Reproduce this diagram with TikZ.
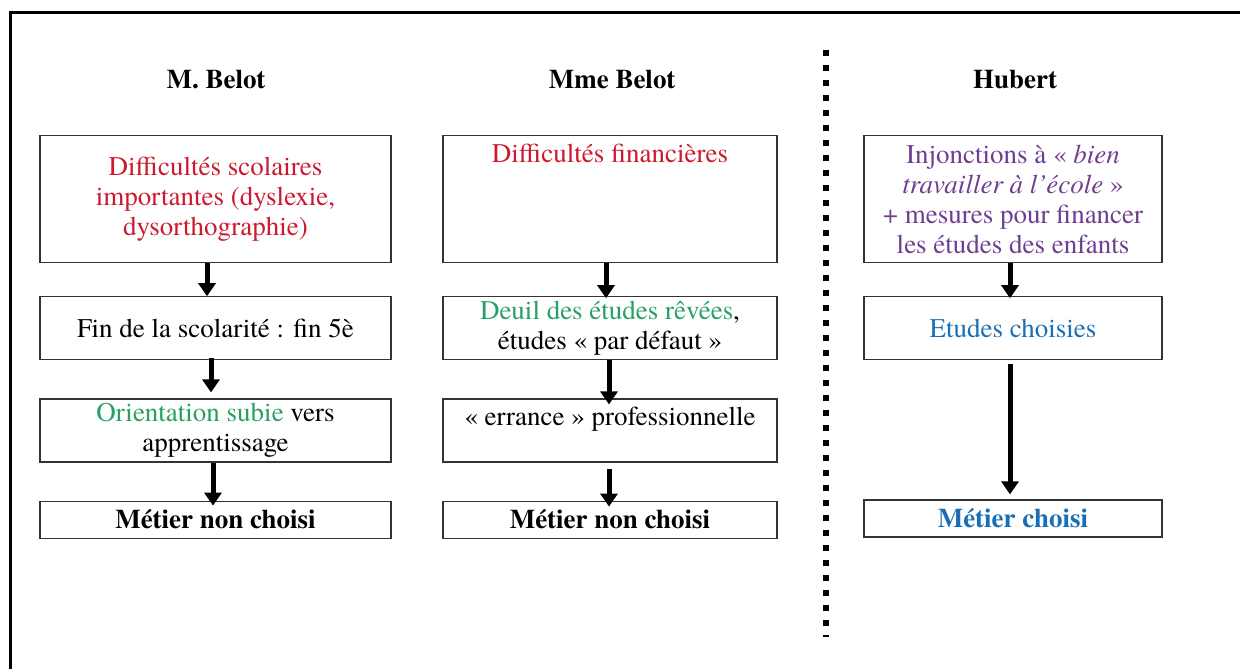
\documentclass[tikz,border=0pt]{standalone}
\usepackage{fontspec}
\setmainfont{texgyretermes}[Extension=.otf, UprightFont=*-regular, BoldFont=*-bold, ItalicFont=*-italic, BoldItalicFont=*-bolditalic, Ligatures=TeX]
\usetikzlibrary{arrows.meta, positioning}

\definecolor{diffred}{RGB}{205,25,45}
\definecolor{subigreen}{RGB}{40,160,100}
\definecolor{injpurple}{RGB}{112,62,145}
\definecolor{choixblue}{RGB}{25,110,180}

\begin{document}
\begin{tikzpicture}[x=1pt, y=-1pt]
	\tikzset {box/.style={draw=black!80, line width=1.2pt, inner sep=0pt, align=center, anchor=north, font=\fontsize{27}{30}\selectfont},
		head/.style={font=\fontsize{27}{30}\selectfont\bfseries},
		bold/.style={font=\fontsize{27}{30}\selectfont\bfseries},
		flow/.style={-{Triangle[width=17pt, length=13pt]}, line width=5pt},
		colA/.style={box, minimum width=351pt},
		colB/.style={box, minimum width=334pt},
		colC/.style={box, minimum width=298pt}}

	\useasboundingbox (0,0) rectangle (1240,669);
	\draw[line width=3pt] (10,672) -- (10,13) -- (1243,13);

	% headings
	\node[head] (hA) at (216,80) {M. Belot};
	\node[head] (hB) at (612,80) {Mme Belot};
	\node[head] (hC) at (1015,80) {Hubert};

	% M. Belot
	\node[colA, minimum height=127pt, text=diffred] (a1) at (215.5,135) {Difficultés scolaires\\importantes (dyslexie,\\dysorthographie)};
	\node[colA, minimum height=63pt, below=33pt of a1] (a2) {Fin de la scolarité : fin 5è};
	\node[colA, minimum height=63pt, below=38pt of a2] (a3) {{\color{subigreen}Orientation subie} vers\\apprentissage};
	\node[colA, bold, minimum height=37pt, below=38pt of a3] (a4) {Métier non choisi};

	% Mme Belot
	\node[colB, text height=27pt, text depth=100pt, text=diffred] (b1) at (610,135) {Difficultés financières};
	\node[colB, minimum height=63pt, below=33pt of b1] (b2) {{\color{subigreen}Deuil des études rêvées},\\études «~par défaut~»};
	\node[colB, text height=26pt, text depth=37pt, below=38pt of b2] (b3) {«~errance~» professionnelle};
	\node[colB, bold, minimum height=37pt, below=38pt of b3] (b4) {Métier non choisi};

	% Hubert
	\node[colC, minimum height=127pt, text=injpurple] (c1) at (1013,135) {Injonctions à «~\textit{bien}\\\textit{travailler à l'école}~»\\+ mesures pour financer\\les études des enfants};
	\node[colC, minimum height=63pt, below=33pt of c1, text=choixblue] (c2) {Etudes choisies};
	\node[colC, bold, minimum height=37pt, below=139pt of c2, text=choixblue] (c3) {Métier choisi};

	\draw[flow] ([xshift=-8.5pt]a1.south) -- ([xshift=-8.5pt]a2.north);
	\draw[flow] ([xshift=-4.5pt, yshift=2pt]a2.south) -- ([xshift=-4.5pt, yshift=6pt]a3.north);
	\draw[flow] ([xshift=-2.5pt]a3.south) -- ([xshift=-2.5pt, yshift=-5pt]a4.north);

	\draw[flow] ([xshift=-4pt]b1.south) -- ([xshift=-4pt, yshift=-2pt]b2.north);
	\draw[flow] ([xshift=-1pt]b2.south) -- ([xshift=-1pt, yshift=-6pt]b3.north);
	\draw[flow] ([xshift=-1pt, yshift=-6pt]b3.south) -- ([xshift=-1pt, yshift=-6pt]b4.north);

	\draw[flow] ([xshift=-3pt]c1.south) -- ([xshift=-3pt, yshift=-2pt]c2.north);
	\draw[flow] ([xshift=-3pt, yshift=-4pt]c2.south) -- ([xshift=-3pt, yshift=5pt]c3.north);

	% separator
	\draw[line width=6pt, dash pattern=on 6pt off 9pt] (826,50) -- (826,637);
\end{tikzpicture}
\end{document}
